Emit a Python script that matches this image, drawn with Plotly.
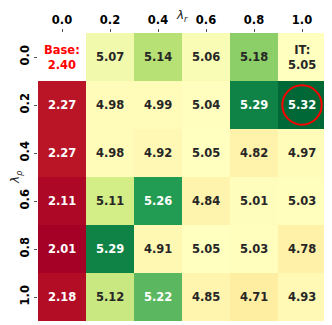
import numpy as np
import plotly.graph_objects as go

lam_r = ["0.0", "0.2", "0.4", "0.6", "0.8", "1.0"]
lam_rho = ["0.0", "0.2", "0.4", "0.6", "0.8", "1.0"]

row_00 = [2.40, 5.07, 5.14, 5.06, 5.18, 5.05]
row_02 = [2.27, 4.98, 4.99, 5.04, 5.29, 5.32]
row_04 = [2.27, 4.98, 4.92, 5.05, 4.82, 4.97]
row_06 = [2.11, 5.11, 5.26, 4.84, 5.01, 5.03]
row_08 = [2.01, 5.29, 4.91, 5.05, 5.03, 4.78]
row_10 = [2.18, 5.12, 5.22, 4.85, 4.71, 4.93]

BASE = 2.40
IT = 5.05

z = np.array([row_00, row_02, row_04, row_06, row_08, row_10], dtype=float)
mask = np.zeros_like(z, dtype=bool)
mask[0, 0] = True  # base cell is drawn empty
zc = np.where(mask, np.nan, z)

# two-slope norm: centre at the IT value
vmin = np.nanmin(zc)
vmax = np.nanmax(zc)
vc = IT

rdylgn = ['rgb(165,0,38)', 'rgb(215,48,39)', 'rgb(244,109,67)', 'rgb(253,174,97)',
          'rgb(254,224,139)', 'rgb(255,255,191)', 'rgb(217,239,139)', 'rgb(166,217,106)',
          'rgb(102,189,99)', 'rgb(26,152,80)', 'rgb(0,104,55)']


def norm(v):
    if v <= vc:
        return 0.5 * (v - vmin) / (vc - vmin)
    return 0.5 + 0.5 * (v - vc) / (vmax - vc)


cscale = []
for i, c in enumerate(rdylgn):
    t = i / 10
    if t <= 0.5:
        v = vmin + t / 0.5 * (vc - vmin)
    else:
        v = vc + (t - 0.5) / 0.5 * (vmax - vc)
    cscale.append([(v - vmin) / (vmax - vmin), c])
cscale[0][0] = 0.0
cscale[-1][0] = 1.0

fig = go.Figure(go.Heatmap(
    z=zc,
    x=list(range(len(lam_r))),
    y=list(range(len(lam_rho))),
    colorscale=cscale,
    zmin=vmin,
    zmax=vmax,
    showscale=False,
    hoverongaps=False,
))

font = "DejaVu Sans"
for i in range(z.shape[0]):
    for j in range(z.shape[1]):
        v = z[i, j]
        if mask[i, j]:
            txt = "Base:<br>%.2f" % BASE
            col = "red"
        else:
            txt = "%.2f" % v
            if i == 0 and j == z.shape[1] - 1:
                txt = "IT:<br>%.2f" % v
            t = norm(v)
            col = "white" if (t < 0.2 or t > 0.8) else "#262626"
        fig.add_annotation(x=j, y=i, text=txt, showarrow=False,
                           font=dict(family=font, size=11.5, color=col, weight="bold"))

# circle round the best cell
bi, bj = np.unravel_index(np.nanargmax(zc), zc.shape)
fig.add_shape(type="circle", xref="x", yref="y",
              x0=bj - 0.41, x1=bj + 0.41, y0=bi - 0.41, y1=bi + 0.41,
              line=dict(color="red", width=2))

# axis titles pushed to the very edge of the figure
fig.add_annotation(xref="paper", yref="paper", x=0.5, y=1, yanchor="top", yshift=26,
                   text="<i>λ</i><sub><i>r</i></sub>", showarrow=False, borderpad=0,
                   font=dict(family=font, size=12, color="#222"))
fig.add_annotation(xref="paper", yref="paper", x=0, y=0.5, xanchor="left", xshift=-31,
                   text="<i>λ</i><sub><i>ρ</i></sub>", showarrow=False, textangle=-90, borderpad=0,
                   font=dict(family=font, size=12, color="#222"))

fig.update_xaxes(side="top", tickmode="array", tickvals=list(range(len(lam_r))), ticktext=lam_r,
                 ticks="outside", ticklen=3, tickcolor="#555", showgrid=False, zeroline=False,
                 range=[-0.5, 5.5], tickfont=dict(family=font, size=11.5, color="black", weight="bold"))
fig.update_yaxes(autorange=False, range=[5.5, -0.5], tickmode="array",
                 tickvals=list(range(len(lam_rho))), ticktext=lam_rho, tickangle=-90,
                 ticks="outside", ticklen=3, tickcolor="#555", showgrid=False, zeroline=False,
                 tickfont=dict(family=font, size=11.5, color="black", weight="bold"))

# page body has an 8px margin, so the figure is shrunk to fit the window
fig.update_layout(width=324, height=317, margin=dict(l=30, r=6, t=25, b=4),
                  plot_bgcolor="white", paper_bgcolor="white")

fig.write_html("out.html")
